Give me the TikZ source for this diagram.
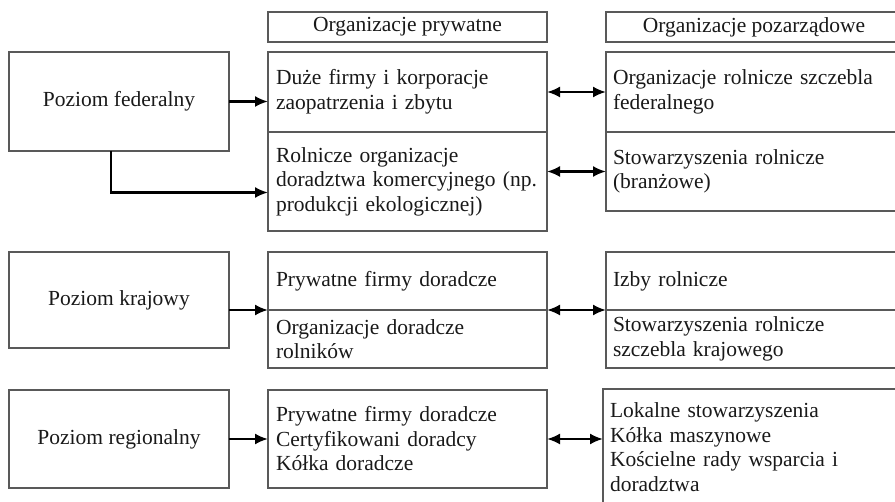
\documentclass[tikz,border=0pt]{standalone}
\usepackage{fontspec}
\setmainfont{Liberation Serif}
\usetikzlibrary{positioning,arrows.meta}

\definecolor{boxgray}{gray}{0.35}
\definecolor{txtgray}{gray}{0.1}

\tikzset{
  lvl/.style={draw=boxgray, line width=1.3pt, minimum width=220pt, minimum height=#1, outer sep=0pt, anchor=north west},
  hdr/.style={draw=boxgray, line width=1.3pt, minimum width=#1, minimum height=30pt, outer sep=0pt, anchor=north west},
  cellP/.style={draw=boxgray, line width=1.3pt, text width=263pt, inner xsep=8pt, align=left, minimum height=#1, outer sep=0pt, anchor=north west},
  cellN/.style={draw=boxgray, line width=1.3pt, text width=282pt, inner xsep=7pt, align=left, minimum height=#1, outer sep=0pt, anchor=north west},
  arr/.style={-{Latex[length=13pt,width=11pt]}, line width=2.1pt},
  dbl/.style={{Latex[length=13pt,width=11pt]}-{Latex[length=13pt,width=11pt]}, line width=2.1pt}
}

\begin{document}
\begin{tikzpicture}[x=1pt, y=-1pt, font=\fontsize{21.5}{24.5}\selectfont, text=txtgray]
\useasboundingbox (0,0) rectangle (895,502);
\clip (0,0) rectangle (895,502);

\node[hdr=279pt] (hdrP) at (268,12) {Organizacje prywatne};
\node[hdr=296pt] (hdrN) at (606,12) {Organizacje pozarządowe};

% poziom federalny
\node[lvl=99pt] (fed) at (9,52) {Poziom federalny};
\node[cellP=80pt] (fedA) at (268,52) {Duże firmy i korporacje\\zaopatrzenia i zbytu};
\node[cellP=99pt, below=0pt of fedA] (fedB) {Rolnicze organizacje\\doradztwa komercyjnego (np.\\produkcji ekologicznej)};
\node[cellN=80pt] (fedC) at (606,52) {Organizacje rolnicze szczebla\\federalnego};
\node[cellN=79pt, below=0pt of fedC] (fedD) {Stowarzyszenia rolnicze\\(branżowe)};

% poziom krajowy
\node[lvl=96pt] (kraj) at (9,252) {Poziom krajowy};
\node[cellP=58pt] (krajA) at (268,252) {Prywatne firmy doradcze};
\node[cellP=58pt, below=0pt of krajA] (krajB) {Organizacje doradcze\\rolników};
\node[cellN=58pt] (krajC) at (606,252) {Izby rolnicze};
\node[cellN=58pt, below=0pt of krajC] (krajD) {Stowarzyszenia rolnicze\\szczebla krajowego};

% poziom regionalny
\node[lvl=98pt] (reg) at (9,390) {Poziom regionalny};
\node[cellP=98pt] (regA) at (268,390) {Prywatne firmy doradcze\\Certyfikowani doradcy\\Kółka doradcze};
\node[cellN=40pt, text width=286pt, inner ysep=14pt] (regC) at (603,389) {Lokalne stowarzyszenia\\Kółka maszynowe\\Kościelne rady wsparcia i\\doradztwa\rule[-14pt]{0pt}{14pt}};

\draw[arr] (fed.east) -- (fed.east -| fedA.west);
\draw[arr] ([xshift=-8pt]fed.south) |- ([yshift=-11pt]fedB.west);
\draw[dbl] (fedA.east) -- (fedC.west);
\draw[dbl] (fedB.east |- fedD.west) -- (fedD.west);

\draw[arr] (kraj.east |- krajA.south) -- (krajA.south west);
\draw[dbl] (krajA.south east) -- (krajC.south west);

\draw[arr] (reg.east) -- (reg.east -| regA.west);
\draw[dbl] (regA.east) -- (regA.east -| regC.west);
\end{tikzpicture}
\end{document}
